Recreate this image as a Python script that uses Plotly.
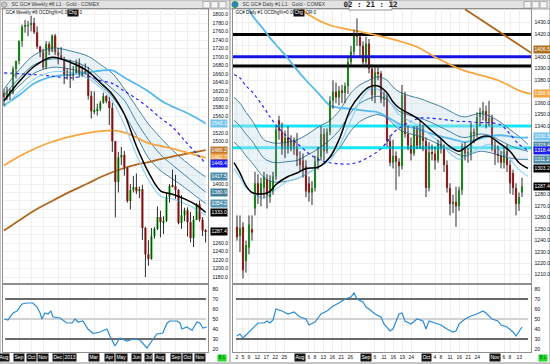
import plotly.graph_objects as go

W, H = 550, 364
FONT = "Liberation Sans Narrow, Liberation Sans, Arial, sans-serif"

# ================= WEEKLY GC# (left window): one bar per week, Aug 2012 .. Nov 2013 =================
wk_open = [
    1615, 1606, 1621, 1616, 1672, 1691, 1738, 1772, 1774, 1776,
    1781, 1759, 1725, 1712, 1676, 1731, 1714, 1751, 1712, 1704,
    1696, 1657, 1660, 1656, 1662, 1687, 1658, 1667, 1665, 1609,
    1572, 1575, 1578, 1592, 1608, 1596, 1580, 1501, 1405, 1463,
    1469, 1439, 1360, 1386, 1393, 1383, 1388, 1296, 1234, 1223,
    1277, 1294, 1322, 1310, 1313, 1370, 1396, 1395, 1386, 1308,
    1326, 1338, 1310, 1272, 1315, 1352, 1316, 1290]
wk_high = [
    1625, 1630, 1626, 1678, 1692, 1740, 1777, 1788, 1786, 1798,
    1793, 1773, 1727, 1720, 1738, 1737, 1754, 1755, 1722, 1724,
    1701, 1674, 1694, 1679, 1694, 1697, 1680, 1685, 1677, 1620,
    1619, 1590, 1597, 1616, 1610, 1606, 1592, 1502, 1476, 1488,
    1478, 1440, 1400, 1419, 1425, 1394, 1398, 1299, 1267, 1296,
    1298, 1347, 1337, 1324, 1380, 1400, 1434, 1422, 1388, 1374,
    1344, 1345, 1334, 1325, 1355, 1361, 1322, 1294]
wk_low = [
    1585, 1598, 1599, 1612, 1650, 1683, 1725, 1758, 1750, 1761,
    1755, 1720, 1700, 1672, 1672, 1705, 1712, 1705, 1683, 1693,
    1636, 1647, 1627, 1645, 1662, 1652, 1655, 1660, 1600, 1555,
    1565, 1562, 1572, 1590, 1591, 1540, 1476, 1321, 1380, 1445,
    1420, 1356, 1340, 1380, 1376, 1367, 1268, 1180, 1207, 1221,
    1271, 1291, 1274, 1282, 1310, 1356, 1392, 1365, 1305, 1294,
    1312, 1276, 1262, 1251, 1315, 1311, 1277, 1262]
wk_close = [
    1606, 1621, 1616, 1672, 1691, 1738, 1772, 1774, 1776, 1781,
    1759, 1725, 1712, 1676, 1731, 1714, 1751, 1712, 1704, 1696,
    1657, 1660, 1656, 1662, 1687, 1658, 1667, 1665, 1609, 1572,
    1575, 1578, 1592, 1608, 1596, 1580, 1501, 1405, 1463, 1469,
    1439, 1360, 1386, 1393, 1383, 1388, 1296, 1234, 1223, 1277,
    1294, 1322, 1310, 1313, 1370, 1396, 1395, 1386, 1308, 1326,
    1338, 1310, 1272, 1315, 1352, 1316, 1290, 1287.4]
wk_months = ["Aug", "Sep", "Oct", "Nov", "Dec", "2013", "Mar", "Apr", "May",
             "Jun", "Jul", "Aug", "Sep", "Oct", "Nov"]
wk_month_bar = [0, 5, 9, 13, 18, 22, 30, 35, 39, 44, 48, 52, 57, 61, 65]
wk_price_ticks = list(range(1180, 1801, 20))

# study lines at these bar numbers
wk_node = [0, 5, 10, 16, 22, 28, 32, 36, 40, 44, 48, 52, 56, 60, 64, 67]
wk_black = [1597, 1642, 1678, 1700, 1688, 1666, 1640, 1612, 1565, 1490, 1428, 1384, 1376, 1365, 1350, 1333]
wk_up = [1625, 1670, 1705, 1722, 1715, 1702, 1683, 1662, 1625, 1583, 1542, 1510, 1480, 1455, 1432, 1417]
wk_mid = [1610, 1650, 1682, 1696, 1692, 1675, 1650, 1625, 1598, 1548, 1505, 1470, 1445, 1422, 1398, 1381]
wk_lo = [1596, 1632, 1662, 1676, 1672, 1657, 1634, 1606, 1565, 1515, 1462, 1432, 1412, 1392, 1370, 1354]
wk_skythin = [1582, 1618, 1648, 1665, 1664, 1650, 1628, 1596, 1540, 1470, 1410, 1372, 1365, 1354, 1340, 1326]
wk_sky = [1586, 1610, 1638, 1654, 1659, 1664, 1668, 1669, 1652, 1636, 1619, 1598, 1583, 1571, 1556, 1543]
wk_dot = [1663, 1661, 1659, 1655, 1651, 1655, 1645, 1638, 1620, 1602, 1581, 1556, 1535, 1503, 1472, 1449]
wk_orange = [1444, 1465, 1483, 1500, 1512, 1521, 1525, 1527, 1522, 1510, 1497, 1490, 1484, 1476, 1468, 1462]
wk_brown = [1290, 1314, 1337, 1360, 1382, 1402, 1416, 1428, 1438, 1446, 1452, 1459, 1465, 1471, 1476, 1480]

wk_rsi_bar = [0, 1.3, 3, 4.3, 6, 7.6, 9.6, 11, 12, 12.6, 13.6, 14.6, 15.6, 16.3, 18.6, 20.9, 22.6, 23.6,
              24.6, 26.2, 27.9, 29.6, 31.9, 34.2, 35.2, 36.9, 38.5, 40.9, 42.9, 45.2, 47.5, 49.2, 50.8,
              52.8, 54.2, 55.1, 57.5, 58.5, 59.1, 60.8, 62.5, 64.1, 65.1, 66.1, 67.4]
wk_rsi = [50, 49, 56, 58, 65, 66, 66, 62, 56, 50, 56, 55, 58, 52, 51, 46, 46, 50, 47, 48, 40, 35.5,
          37, 40, 33, 23, 31, 28, 30, 29, 21, 28, 35, 36, 46, 48, 48, 46, 40, 42, 38.5, 47, 46, 41, 42]

wk_tags = [(1543.1, "#74c4ee"), (1480.2, "#c07a30"), (1462.7, "#f4a340"),
           (1449.4, "#1c1cf0"), (1417.5, "#4d8ca6"), (1380.9, "#3f7d98"),
           (1354.2, "#5896b2"), (1333.0, "#000000"), (1287.4, "#000000")]

# ================= DAILY GC# (right window): Jul 2 .. Nov 14 2013 =================
d_open = [
    1252, 1244, 1252, 1222, 1234, 1250, 1268, 1290, 1280, 1286,
    1294, 1278, 1283, 1296, 1345, 1335, 1320, 1330, 1322, 1328,
    1322, 1312, 1310, 1305, 1290, 1282, 1286, 1309, 1313, 1333,
    1318, 1335, 1362, 1370, 1365, 1371, 1369, 1375, 1396, 1405,
    1420, 1418, 1410, 1396, 1412, 1390, 1367, 1387, 1386, 1363,
    1366, 1327, 1308, 1314, 1309, 1305, 1367, 1333, 1323, 1316,
    1337, 1323, 1338, 1327, 1286, 1317, 1316, 1310, 1325, 1322,
    1306, 1286, 1272, 1274, 1270, 1284, 1322, 1316, 1317, 1335,
    1333, 1348, 1352, 1353, 1344, 1347, 1323, 1316, 1314, 1308,
    1318, 1306, 1299, 1286, 1272, 1282]
d_high = [
    1262, 1262, 1256, 1240, 1262, 1262, 1300, 1298, 1295, 1300,
    1298, 1297, 1300, 1340, 1349, 1343, 1336, 1340, 1332, 1330,
    1334, 1318, 1316, 1310, 1296, 1292, 1314, 1322, 1340, 1338,
    1338, 1366, 1380, 1378, 1375, 1376, 1378, 1400, 1410, 1424,
    1434, 1420, 1414, 1418, 1416, 1394, 1392, 1393, 1388, 1370,
    1369, 1332, 1328, 1318, 1312, 1376, 1370, 1340, 1330, 1340,
    1340, 1345, 1341, 1330, 1326, 1324, 1322, 1328, 1329, 1324,
    1310, 1290, 1280, 1287, 1287, 1325, 1326, 1321, 1343, 1338,
    1352, 1356, 1361, 1358, 1362, 1350, 1328, 1323, 1318, 1322,
    1324, 1310, 1302, 1290, 1282, 1295]
d_low = [
    1240, 1230, 1207, 1212, 1228, 1240, 1262, 1272, 1270, 1277,
    1268, 1273, 1280, 1293, 1328, 1315, 1312, 1316, 1318, 1315,
    1305, 1300, 1295, 1278, 1274, 1271, 1283, 1302, 1310, 1310,
    1316, 1332, 1355, 1360, 1358, 1360, 1360, 1368, 1393, 1402,
    1410, 1400, 1392, 1392, 1386, 1362, 1360, 1380, 1360, 1357,
    1322, 1305, 1303, 1284, 1296, 1302, 1330, 1319, 1310, 1314,
    1320, 1320, 1318, 1278, 1283, 1310, 1302, 1308, 1316, 1300,
    1282, 1262, 1264, 1252, 1266, 1280, 1310, 1308, 1310, 1325,
    1330, 1340, 1345, 1338, 1340, 1318, 1306, 1308, 1303, 1303,
    1300, 1281, 1280, 1262, 1266, 1278]
d_close = [
    1243, 1251, 1214, 1236, 1254, 1247, 1290, 1280, 1290, 1296,
    1280, 1292, 1296, 1337, 1336, 1320, 1330, 1322, 1328, 1322,
    1314, 1306, 1302, 1283, 1282, 1286, 1309, 1313, 1333, 1318,
    1335, 1362, 1370, 1365, 1371, 1369, 1375, 1396, 1405, 1420,
    1418, 1410, 1396, 1412, 1390, 1367, 1387, 1386, 1363, 1366,
    1327, 1308, 1314, 1309, 1305, 1367, 1333, 1323, 1316, 1337,
    1323, 1338, 1327, 1286, 1317, 1316, 1310, 1325, 1322, 1306,
    1286, 1272, 1274, 1270, 1284, 1322, 1316, 1317, 1335, 1333,
    1348, 1352, 1353, 1344, 1347, 1323, 1316, 1314, 1308, 1318,
    1306, 1290, 1286, 1272, 1278, 1287.4]
d_day_bar = [0, 2, 4, 7, 10, 13, 16, 24, 26, 29, 32, 35, 38, 46, 49, 52, 55, 58,
             66, 68, 71, 74, 77, 80, 89, 91, 94]
d_day_txt = ["2", "5", "9", "12", "17", "22", "25", "6", "8", "13", "16", "21", "26", "6", "11", "16", "19", "24",
             "4", "8", "11", "16", "21", "24", "6", "8", "13"]
d_month_bar = [21, 43, 63, 86]
d_month_txt = ["Aug", "Sep", "Oct", "Nov"]
d_price_ticks = list(range(1210, 1431, 10))

d_node = [-1, 1, 3, 5, 9, 11, 13, 17, 20, 23, 27, 31, 34, 38, 41, 44, 47, 50, 52, 54, 58, 61, 64,
          68, 71, 74, 76, 81, 84, 88, 91, 94, 97]
d_black = [1308, 1299, 1288, 1282, 1281, 1283, 1289, 1296, 1299, 1303, 1304, 1313, 1328, 1356, 1367,
           1374, 1375, 1369, 1361, 1356, 1350, 1345, 1338, 1329, 1322, 1318, 1321, 1330, 1331, 1324,
           1318, 1308, 1303]
d_up = [1365, 1360, 1352, 1345, 1328, 1326, 1325, 1326, 1328, 1332, 1339, 1345, 1353, 1369, 1376,
        1380, 1383, 1380, 1374, 1370, 1366, 1364, 1361, 1357, 1353, 1349, 1348, 1351, 1349, 1343,
        1337, 1331, 1324]
d_mid = [1345, 1340, 1333, 1327, 1312, 1309, 1308, 1309, 1310, 1314, 1320, 1328, 1336, 1352, 1360,
         1364, 1366, 1363, 1358, 1353, 1349, 1347, 1344, 1339, 1335, 1331, 1330, 1333, 1332, 1327,
         1323, 1320, 1318]
d_lo = [1326, 1321, 1314, 1308, 1295, 1292, 1291, 1292, 1294, 1298, 1304, 1312, 1320, 1336, 1344,
        1348, 1350, 1347, 1342, 1337, 1333, 1331, 1328, 1323, 1319, 1315, 1314, 1318, 1317, 1314,
        1312, 1311, 1311]
d_skythin = [1303, 1295, 1286, 1282, 1277, 1281, 1285, 1292, 1294, 1298, 1304, 1310, 1322, 1345, 1362,
             1372, 1372, 1365, 1357, 1350, 1344, 1340, 1333, 1325, 1316, 1311, 1313, 1321, 1324, 1318,
             1311, 1302, 1296]
d_sky = [1460, 1455, 1448, 1437, 1424, 1417, 1411, 1399, 1389, 1380, 1369, 1358, 1356, 1355, 1354,
         1353, 1352, 1348, 1345, 1342, 1339, 1337, 1334, 1331, 1329, 1327, 1326, 1329, 1331, 1332,
         1331, 1330, 1330]
d_dot = [1385, 1382, 1375, 1370, 1356, 1348, 1341, 1330, 1325, 1318, 1311, 1308, 1307, 1307, 1309,
         1313, 1318, 1326, 1334, 1338, 1344, 1347, 1347, 1346, 1345, 1344, 1344, 1343, 1343, 1341,
         1333, 1324, 1319]
d_orange_bar = [20, 22, 24, 31, 38, 47, 53, 60, 67, 75, 87, 94, 98]
d_orange = [1447, 1441, 1437, 1428, 1424, 1419, 1415, 1409, 1399, 1389, 1380, 1371, 1368]
d_brown_bar = [76, 98]
d_brown = [1442, 1404]
d_levels = [1420.0, 1400.5, 1392.5, 1340.0, 1321.0]
d_level_col = ["#000000", "#1414e6", "#000000", "#12e6f5", "#12e6f5"]

d_rsi_bar = [0, 1, 2, 4, 5, 7, 9, 10, 11, 12, 13, 15, 17, 19, 21, 23, 24, 26, 28, 30, 32, 34, 36, 38,
             39, 40, 42, 43, 44, 46, 48, 49, 51, 52, 54, 55, 56, 58, 60, 62, 63, 64, 66, 68, 70, 72,
             73, 74, 76, 78, 80, 82, 83, 85, 87, 88, 90, 92, 93, 94, 95]
d_rsi = [33, 35, 31, 37, 39, 46, 46, 48, 46, 49, 60, 58, 55, 57, 52, 50, 44, 47, 55, 58, 63, 66, 70, 72,
         76, 70, 67, 62, 60, 55, 52, 45, 38, 40, 55, 56, 48, 45, 50, 48, 40, 48, 46, 44, 40, 37,
         38, 45, 50, 53, 55, 58, 56, 50, 48, 44, 42, 37, 33, 37, 42]

d_tags = [(1406.5, "#b0701e"), (1368.6, "#f4a340"), (1330.5, "#74c4ee"),
          (1323.4, "#4d8ca6"), (1318.4, "#1c1cf0"), (1311.2, "#4d8ca6"),
          (1303.2, "#000000"), (1287.4, "#000000")]

rsi_levels = [70, 50, 30]
rsi_level_col = ["#6a6a6a", "#d2d2d2", "#6a6a6a"]
rsi_ticks = list(range(20, 81, 10))

# ================= drawing =================
GREEN, RED, WICK = "#18d418", "#e31616", "#2c2c2c"
fig = go.Figure()


def X(p):
    return p / W


def Y(p):
    return 1 - p / H


def candles(xs, o, h, l, c, xa, ya, width):
    wx, wy = [], []
    for xi, hi, li in zip(xs, h, l):
        wx += [xi, xi, None]
        wy += [li, hi, None]
    fig.add_trace(go.Scatter(x=wx, y=wy, mode="lines", line=dict(color=WICK, width=1),
                             xaxis=xa, yaxis=ya, hoverinfo="skip", showlegend=False))
    base = [min(a, b) for a, b in zip(o, c)]
    hgt = [max(abs(b - a), 0.8) for a, b in zip(o, c)]
    col = [GREEN if b >= a else RED for a, b in zip(o, c)]
    fig.add_trace(go.Bar(x=xs, y=hgt, base=base, width=width,
                         marker=dict(color=col, line=dict(width=0)),
                         xaxis=xa, yaxis=ya, hoverinfo="skip", showlegend=False))


def line(xs, ys, xa, ya, color, width, dash="solid", shape="spline", fill=None, fillcolor=None):
    fig.add_trace(go.Scatter(x=xs, y=ys, mode="lines",
                             line=dict(color=color, width=width, dash=dash, shape=shape, smoothing=0.9),
                             fill=fill, fillcolor=fillcolor,
                             xaxis=xa, yaxis=ya, hoverinfo="skip", showlegend=False))


def hlevel(val, rng, xa, ya, color, width):
    line([rng[0], rng[1]], [val, val], xa, ya, color, width, shape="linear")


BANDFILL = "rgba(200,226,238,0.40)"
STEEL = "#45849e"
wk_range = [-0.33, 67.8]
d_range = [-1.33, 98.0]
wk_yrange = [1166, 1814]
d_yrange = [1203, 1442.2]

# ---- weekly main
line(wk_node, wk_lo, "x", "y", STEEL, 1)
line(wk_node, wk_up, "x", "y", STEEL, 1, fill="tonexty", fillcolor=BANDFILL)
line(wk_node, wk_mid, "x", "y", STEEL, 1)
line(wk_node, wk_brown, "x", "y", "#b0661c", 1.8)
line(wk_node, wk_orange, "x", "y", "#f7a53f", 1.8)
line(wk_node, wk_sky, "x", "y", "#58b9ee", 1.8)
line(wk_node, wk_dot, "x", "y", "#2424ff", 1.2, dash="dot")
line(wk_node, wk_skythin, "x", "y", "#8fd3f7", 1.2)
wk_x = list(range(len(wk_close)))
candles(wk_x, wk_open, wk_high, wk_low, wk_close, "x", "y", 0.75)
line(wk_node, wk_black, "x", "y", "#000000", 1.5)
# ---- weekly RSI
for lv, col in zip(rsi_levels, rsi_level_col):
    hlevel(lv, [wk_range[0] + 0.7, wk_range[1] - 0.7], "x2", "y2", col, 2)
line(wk_rsi_bar, wk_rsi, "x2", "y2", "#2a8bd6", 1.2, shape="linear")

# ---- daily main
for lv, col in zip(d_levels, d_level_col):
    hlevel(lv, d_range, "x3", "y3", col, 3)
line(d_node, d_lo, "x3", "y3", STEEL, 1)
line(d_node, d_up, "x3", "y3", STEEL, 1, fill="tonexty", fillcolor=BANDFILL)
line(d_node, d_mid, "x3", "y3", STEEL, 1)
line(d_brown_bar, d_brown, "x3", "y3", "#b0661c", 1.8, shape="linear")
line(d_orange_bar, d_orange, "x3", "y3", "#f7a53f", 1.8)
line(d_node, d_sky, "x3", "y3", "#58b9ee", 1.8)
line(d_node, d_dot, "x3", "y3", "#2424ff", 1.2, dash="dot")
line(d_node, d_skythin, "x3", "y3", "#8fd3f7", 1.2)
d_x = list(range(len(d_close)))
candles(d_x, d_open, d_high, d_low, d_close, "x3", "y3", 0.72)
line(d_node, d_black, "x3", "y3", "#000000", 1.5)
# ---- daily RSI
for lv, col in zip(rsi_levels, rsi_level_col):
    hlevel(lv, [d_range[0] + 1, d_range[1] - 1], "x4", "y4", col, 2)
line(d_rsi_bar, d_rsi, "x4", "y4", "#2a8bd6", 1.2, shape="linear")

# ---- axes
common = dict(showgrid=True, gridcolor="#efefef", gridwidth=1, zeroline=False, showline=True,
              linecolor="#8f8f8f", linewidth=1, mirror=True, ticks="", fixedrange=True,
              showticklabels=False)
main_dom = [Y(283), Y(9)]
rsi_dom = [Y(352), Y(285)]
left_dom = [X(3), X(208)]
right_dom = [X(233), X(531)]

fig.update_layout(
    width=W, height=H, margin=dict(l=0, r=0, t=0, b=0),
    paper_bgcolor="#c6c6c6", plot_bgcolor="#ffffff", showlegend=False,
    xaxis=dict(domain=left_dom, range=wk_range, anchor="y", tickvals=wk_month_bar, **common),
    yaxis=dict(domain=main_dom, range=wk_yrange, anchor="x", tickvals=wk_price_ticks, **common),
    xaxis2=dict(domain=left_dom, range=wk_range, anchor="y2", tickvals=wk_month_bar, **common),
    yaxis2=dict(domain=rsi_dom, range=[17, 84], anchor="x2", tickvals=rsi_ticks, **dict(common, showgrid=False)),
    xaxis3=dict(domain=right_dom, range=d_range, anchor="y3", tickvals=d_day_bar, **common),
    yaxis3=dict(domain=main_dom, range=d_yrange, anchor="x3", tickvals=d_price_ticks, **common),
    xaxis4=dict(domain=right_dom, range=d_range, anchor="y4", tickvals=d_day_bar, **common),
    yaxis4=dict(domain=rsi_dom, range=[17, 84], anchor="x4", tickvals=rsi_ticks, **dict(common, showgrid=False)),
)

shapes = []
# window bodies and title bars
for x0, x1 in [(1, 229), (231, 549)]:
    shapes.append(dict(type="rect", xref="paper", yref="paper", x0=X(x0), x1=X(x1), y0=Y(362), y1=Y(9),
                       fillcolor="#ffffff", line=dict(width=0), layer="below"))
    shapes.append(dict(type="rect", xref="paper", yref="paper", x0=X(x0 - 1), x1=X(x1 + 1), y0=Y(9), y1=Y(0),
                       fillcolor="#e2e2e2", line=dict(color="#a8a8a8", width=1), layer="below"))
# title-bar buttons
for bx in [203, 211, 219, 524, 532, 540]:
    shapes.append(dict(type="rect", xref="paper", yref="paper", x0=X(bx), x1=X(bx + 7), y0=Y(8), y1=Y(1.5),
                       fillcolor="#f3f3f3", line=dict(color="#8a8a8a", width=0.6)))
# clock box
shapes.append(dict(type="rect", xref="paper", yref="paper", x0=X(349), x1=X(392), y0=Y(10), y1=Y(0.5),
                   fillcolor="#ffffff", line=dict(color="#7a7a7a", width=0.8)))
# icons
shapes.append(dict(type="circle", xref="paper", yref="paper", x0=X(1.5), x1=X(7), y0=Y(7.5), y1=Y(2),
                   fillcolor="#c8c8c8", line=dict(color="#7a7a7a", width=0.6)))
shapes.append(dict(type="circle", xref="paper", yref="paper", x0=X(232), x1=X(238), y0=Y(7.5), y1=Y(1.5),
                   fillcolor="#2f7fd8", line=dict(color="#2a9a3a", width=1)))
fig.update_layout(shapes=shapes)

ann = []


def txt(x, y, t, size=5.2, color="#222", bg=None, xanchor="left", xref="paper", family=FONT, yref="paper"):
    ann.append(dict(x=x, y=y, xref=xref, yref=yref, text=t, showarrow=False, xanchor=xanchor,
                    yanchor="middle", font=dict(size=size, color=color, family=family),
                    bgcolor=bg, borderpad=0.4))


def visible_ticks(ticks, tags, yrange):
    # price labels hidden behind a value tag (as on the platform) are not drawn
    ppu = 274.0 / (yrange[1] - yrange[0])
    return [v for v in ticks if all(abs(v - t) * ppu >= 6.5 for t, _ in tags)]


# title bars
txt(X(10), Y(4.5), "SC GC# Weekly #8 L1 \u00b7 Gold - COMEX", size=5.0, color="#404040")
txt(X(241), Y(4.5), "SC GC# Daily #1 L1 \u00b7 Gold - COMEX", size=5.0, color="#404040")
txt(X(370.5), Y(5.2), "<b>02 : 21 : 12</b>", size=7.5, color="#222", xanchor="center",
    family="DejaVu Sans Mono, monospace")
# chart headers
txt(X(4), Y(13), "GC# Weekly #8 OCDhg%=0.00", size=4.6, color="#111")
txt(X(67), Y(13), "Chg", size=4.6, color="#fff", bg="#111")
txt(X(78), Y(13), "0", size=4.6, color="#111")
txt(X(234), Y(13), "GC# Daily #1 OCDhg%=0.00", size=4.6, color="#111")
txt(X(293), Y(13), "Chg", size=4.6, color="#fff", bg="#111")
txt(X(304), Y(13), "OR:0", size=4.6, color="#111")
# price scale labels
for v in visible_ticks(wk_price_ticks, wk_tags, wk_yrange):
    txt(X(211), v, f"{v:.1f}", color="#111", yref="y")
for v in visible_ticks(d_price_ticks, d_tags, d_yrange):
    txt(X(533), v, f"{v:.1f}", color="#111", yref="y3")
for v in rsi_ticks:
    txt(X(211), v, str(v), color="#111", yref="y2")
    txt(X(533), v, str(v), color="#111", yref="y4")
# weekly month boxes
for b, t in zip(wk_month_bar, wk_months):
    txt(b, Y(357), t, size=5.0, color="#fff", bg="#141414", xanchor="center", xref="x")
# daily date labels
for b, t in zip(d_day_bar, d_day_txt):
    txt(b, Y(357), t, size=5.0, color="#111", xanchor="center", xref="x3")
for b, t in zip(d_month_bar, d_month_txt):
    txt(b, Y(357), t, size=5.0, color="#fff", bg="#141414", xanchor="center", xref="x3")
# right-edge value tags
for v, bg in wk_tags:
    txt(X(210), v, f"{v:.1f}", size=5.0, color="#fff", bg=bg, yref="y")
for v, bg in d_tags:
    txt(X(532.5), v, f"{v:.1f}", size=5.0, color="#fff", bg=bg, yref="y3")
# status boxes
txt(X(222), Y(357.5), "B L", size=4.8, color="#063", bg="#22dd22", xanchor="center")
txt(X(543), Y(357.5), "B L", size=4.8, color="#063", bg="#22dd22", xanchor="center")
fig.update_layout(annotations=ann)

fig.write_html("out.html", config={"displayModeBar": False},
               post_script="document.body.style.margin='0px';")
